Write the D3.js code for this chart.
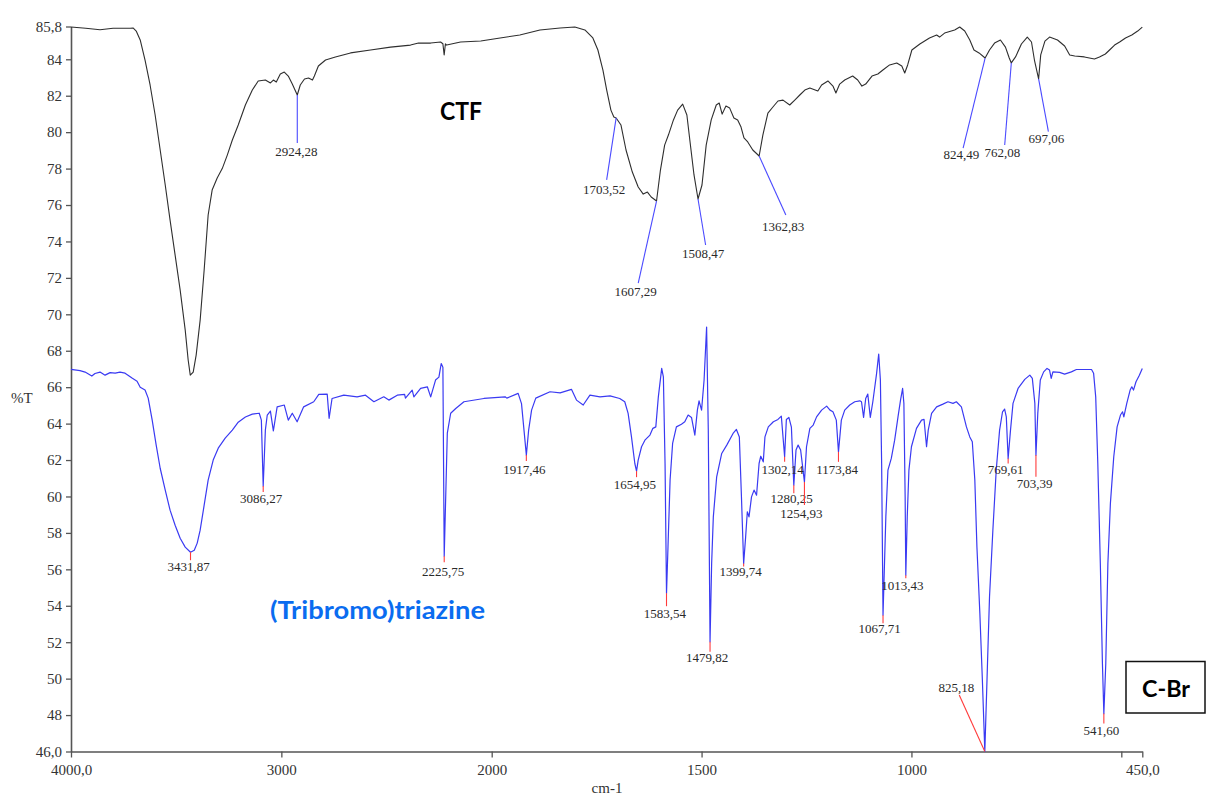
<!DOCTYPE html>
<html>
<head>
<meta charset="utf-8">
<script src="https://cdn.jsdelivr.net/npm/d3@7"></script>
<style>
  html, body { margin: 0; padding: 0; background: #fff; }
  svg { display: block; }
  .serif { font-family: "Liberation Serif", serif; }
</style>
</head>
<body>
<svg id="chart" width="1207" height="796"></svg>
<script>
// ---------------- DATA ----------------
// x-axis tick values (cm-1) and y-axis tick values (%T)
const xTickValues = [4000, 3000, 2000, 1500, 1000, 500, 450];
const xTickLabels = ["4000,0", "3000", "2000", "1500", "1000", "", "450,0"];
const yTickValues = [46, 48, 50, 52, 54, 56, 58, 60, 62, 64, 66, 68, 70, 72, 74, 76, 78, 80, 82, 84, 85.8];
const yTickLabels = ["46,0", "48", "50", "52", "54", "56", "58", "60", "62", "64", "66", "68", "70", "72", "74", "76", "78", "80", "82", "84", "85,8"];

// CTF spectrum: [wavenumber cm-1, %T]
const ctfSpectrum = [
  [4000,85.77],[3930,85.7],[3862,85.62],[3800,85.7],[3719,85.7],[3705,85.72],[3690,85.55],[3671,85.06],
  [3648,83.96],[3624,82.59],[3600,80.94],[3576,79.02],[3552,77.1],[3529,75.17],[3505,73.25],[3481,71.33],
  [3457,69.13],[3443,67.49],[3433,66.66],[3419,66.83],[3405,67.76],[3386,69.68],[3367,72.43],[3348,75.45],
  [3329,76.82],[3305,77.48],[3281,78.0],[3257,78.74],[3233,79.57],[3205,80.39],[3171,81.49],[3138,82.31],
  [3110,82.81],[3076,82.86],[3052,82.7],[3038,82.86],[3024,82.75],[3005,83.19],[2986,83.3],[2967,83.08],
  [2948,82.64],[2924.28,82.04],[2910,82.59],[2890,82.92],[2871,82.97],[2852,82.86],[2843,83.08],[2824,83.63],
  [2790,83.96],[2743,84.13],[2671,84.35],[2576,84.51],[2481,84.67],[2386,84.78],[2348,84.89],[2290,84.89],
  [2243,84.95],[2232,84.85],[2226,84.24],[2220,84.85],[2214,84.78],[2148,84.95],[2052,85.0],[1980,85.17],
  [1933,85.33],[1885,85.61],[1837,85.72],[1802,85.77],[1778,85.61],[1759,85.17],[1747,84.51],[1735,83.41],
  [1726,82.31],[1716,81.21],[1709,80.83],[1703.52,80.78],[1692,80.39],[1680,79.02],[1665,77.81],[1651,76.99],
  [1639,76.6],[1629,76.71],[1620,76.44],[1607.29,76.22],[1598,77.92],[1588,79.29],[1579,79.84],[1567,80.67],
  [1557,81.21],[1545,81.54],[1535,80.94],[1528,79.57],[1518,77.65],[1508.47,76.33],[1499,77.1],[1489,79.29],
  [1477,80.67],[1465,81.49],[1458,81.6],[1451,80.99],[1442,81.43],[1433,81.32],[1423,80.78],[1414,80.67],
  [1406,80.28],[1399,79.68],[1390,79.46],[1378,79.02],[1362.83,78.69],[1354,79.84],[1342,81.05],[1330,81.38],
  [1318,81.71],[1306,81.76],[1290,81.49],[1278,81.76],[1266,82.04],[1254,82.31],[1242,82.42],[1223,82.26],
  [1214,82.59],[1199,82.81],[1187,82.53],[1180,82.15],[1171,82.64],[1159,82.86],[1140,83.08],[1128,82.86],
  [1118,82.53],[1109,82.64],[1094,83.08],[1080,83.19],[1068,83.41],[1052,83.69],[1035,83.8],[1023,83.63],
  [1016,83.25],[1009,83.69],[999,84.51],[980,84.84],[957,85.17],[940,85.33],[933,85.22],[921,85.44],
  [897,85.61],[885,85.77],[873,85.55],[861,85.06],[851,84.51],[839,84.35],[824.49,84.07],[814,84.51],
  [802,84.89],[788,85.06],[776,84.67],[767,84.07],[762.08,83.8],[752,84.13],[738,84.84],[724,85.22],
  [714,84.95],[707,83.96],[697.06,82.92],[692,84.24],[682,85.0],[671,85.22],[652,85.06],[635,84.73],
  [623,84.24],[611,84.18],[588,84.13],[564,84.02],[552,84.13],[538,84.29],[528,84.51],[516,84.78],
  [504,84.95],[490,85.17],[475,85.33],[461,85.55],[450,85.77]
];

// (Tribromo)triazine spectrum: [wavenumber cm-1, %T]
const triazineSpectrum = [
  [4000,66.98],[3957,66.91],[3933,66.83],[3901,66.61],[3886,66.75],[3862,66.83],[3838,66.66],[3814,66.8],
  [3790,66.77],[3767,66.83],[3743,66.77],[3729,66.66],[3710,66.5],[3686,66.33],[3671,66.0],[3648,65.84],
  [3633,65.4],[3614,64.19],[3595,62.82],[3576,61.55],[3552,60.35],[3529,59.25],[3505,58.42],[3481,57.71],
  [3457,57.22],[3431.87,56.94],[3414,57.05],[3400,57.44],[3386,58.15],[3367,59.52],[3348,60.9],[3324,62.0],
  [3300,62.65],[3267,63.2],[3233,63.64],[3205,64.08],[3171,64.36],[3138,64.52],[3105,64.57],[3095,64.19],
  [3086.27,60.57],[3076,63.64],[3067,64.47],[3052,64.69],[3038,63.6],[3020,64.92],[2986,65.02],[2967,64.19],
  [2948,64.57],[2925,64.1],[2894,64.92],[2846,65.2],[2822,65.6],[2782,65.62],[2773,64.29],[2759,65.38],
  [2703,65.56],[2640,65.47],[2600,65.56],[2560,65.2],[2513,65.47],[2489,65.29],[2449,65.56],[2414,65.6],
  [2410,65.4],[2378,65.84],[2370,65.47],[2338,65.93],[2306,66.02],[2290,65.47],[2267,66.39],[2251,66.55],
  [2240,67.3],[2232,67.1],[2225.75,56.72],[2211,63.48],[2195,64.57],[2171,64.83],[2132,65.2],[2037,65.38],
  [1968,65.47],[1964,65.4],[1937,65.66],[1929,65.1],[1917.46,62.27],[1912,63.64],[1905,64.74],[1895,65.4],
  [1861,65.75],[1837,65.69],[1810,65.88],[1798,65.29],[1782,65.02],[1766,65.56],[1742,65.47],[1718,65.52],
  [1695,65.38],[1683,65.2],[1675,64.56],[1667,63.27],[1659,61.81],[1654.95,61.39],[1651,62.0],[1643,62.73],
  [1635,63.09],[1623,63.37],[1616,63.74],[1609,63.82],[1603,65.47],[1595,67.03],[1591,66.57],[1587,61.81],
  [1583.54,54.69],[1580,57.23],[1575,60.9],[1569,62.91],[1560,63.82],[1548,63.97],[1540,64.1],[1532,64.47],
  [1524,64.34],[1516,63.37],[1510,64.74],[1506,65.25],[1500,64.74],[1494,66.39],[1488,69.3],[1484,63.64],
  [1479.82,52.02],[1476,56.32],[1472,58.88],[1464,61.08],[1452,62.36],[1440,62.82],[1425,63.46],[1417,63.68],
  [1410,63.27],[1405,59.98],[1399.74,56.32],[1395,57.78],[1391,59.16],[1387,58.88],[1381,59.98],[1375,60.35],
  [1369,60.07],[1363,61.81],[1359,62.21],[1353,61.9],[1349,63.27],[1341,63.82],[1329,64.1],[1318,64.23],
  [1310,64.41],[1302.14,62.18],[1298,64.23],[1292,64.34],[1286,63.81],[1280.25,60.62],[1275,62.55],[1270,62.82],
  [1264,62.55],[1254.93,60.8],[1250,62.73],[1242,63.74],[1234,63.92],[1226,64.37],[1214,64.74],[1202,64.96],
  [1194,64.74],[1187,64.65],[1179,64.19],[1173.84,62.45],[1167,64.19],[1159,64.74],[1147,65.02],[1135,65.2],
  [1123,65.25],[1119,65.2],[1114,64.34],[1109,65.38],[1104,65.62],[1098,64.34],[1092,65.2],[1083,66.76],
  [1078,67.82],[1074,66.39],[1071,61.81],[1067.71,53.48],[1061,58.88],[1056,61.45],[1048,62.09],[1040,63.09],
  [1032,64.37],[1026,65.29],[1021,65.93],[1018,65.11],[1015,59.98],[1013.43,55.68],[1010,58.88],[1006,61.45],
  [1000,62.73],[988,63.74],[976,64.19],[970,64.23],[964,62.73],[960,63.64],[952,64.56],[940,64.92],
  [925,65.07],[913,65.2],[901,65.11],[893,65.2],[881,64.92],[869,63.82],[861,63.27],[855,63.0],
  [849,60.9],[844,57.23],[837,53.58],[831,49.91],[825.18,46.0],[820,49.91],[814,54.49],[806,58.15],
  [798,61.45],[790,63.64],[783,64.65],[778,64.8],[774,64.37],[769.61,62.09],[764,63.64],[758,65.11],
  [746,65.93],[730,66.43],[718,66.66],[712,66.48],[706,65.11],[703.39,62.27],[699,64.56],[693,66.39],
  [685,66.84],[677,67.03],[671,66.94],[667,66.48],[663,66.84],[647,66.81],[635,66.72],[619,66.84],
  [607,66.97],[587,66.97],[571,66.97],[566,66.76],[561,65.47],[556,61.81],[550,56.32],[545,50.83],
  [541.60,48.08],[537,50.83],[532,56.32],[526,59.62],[518,62.18],[510,63.82],[502,64.47],[497,64.65],
  [494,64.37],[487,65.11],[479,65.84],[475,66.02],[471,65.84],[465,66.3],[457,66.66],[450,67.03]
];

// Labelled peaks: [wavenumber, %T]
const ctfPeaks = [
  [2924.28,82.04],[1703.52,80.78],[1607.29,76.22],[1508.47,76.33],[1362.83,78.69],
  [824.49,84.07],[762.08,83.8],[697.06,82.92]
];
const triazinePeaks = [
  [3431.87,56.94],[3086.27,60.57],[2225.75,56.72],[1917.46,62.27],[1654.95,61.39],[1583.54,54.69],
  [1479.82,52.02],[1399.74,56.32],[1302.14,62.18],[1280.25,60.62],[1254.93,60.8],[1173.84,62.45],
  [1067.71,53.48],[1013.43,55.68],[825.18,46.0],[769.61,62.09],[703.39,62.27],[541.60,48.08]
];

// ---------------- LAYOUT (pixel offsets for peak annotations) ----------------
// [leaderEndDx, leaderEndDy, textDx, textDy] relative to peak point
const ctfLabelLayout = [
  [0,48,-1,61],[-9.5,62,-12,76],[-18.3,82,-21,95],[7.6,46,5.2,59],[26.7,59,24,75],
  [-22,90,-23.7,101],[-6.6,82,-9,93.7],[9.8,52.7,7.8,64.3]
];
const triazineLabelLayout = [
  [0,8,-2,19],[0,6,-2,17],[0,6,-1,20],[0,6,-2,19],[0,6,-1.6,18],[0,13,-1.6,25],
  [0,10,-3,20],[0,3,-3,12],[0,5,-2,17],[0,8,-2.3,18],[0,23,-3,36],[0,10,-1.4,22],
  [0,8,-3.3,18],[0,3,-3.4,15],[-25.6,-56.5,-28.4,-60],[0,5,-2.5,16],[0,21.7,-1.3,33],[0,10,-2.5,21]
];

// ---------------- DRAW ----------------
const svg = d3.select("#chart");
svg.append("rect").attr("width", 1207).attr("height", 796).attr("fill", "#fff");

const x = d3.scaleLinear().domain([4000, 2000, 450]).range([71, 491.7, 1142.3]);
const y = d3.scaleLinear().domain([46, 85.8]).range([751.5, 26.5]);

const axisColor = "#555";

// Y axis
const yAxis = svg.append("g")
  .attr("transform", "translate(71,0)")
  .call(d3.axisLeft(y).tickValues(yTickValues).tickSize(5).tickSizeOuter(0).tickPadding(4)
    .tickFormat((d, i) => yTickLabels[i]));
// X axis
const xAxis = svg.append("g")
  .attr("transform", "translate(0,751.5)")
  .call(d3.axisBottom(x).tickValues(xTickValues).tickSize(6).tickSizeOuter(0).tickPadding(7)
    .tickFormat((d, i) => xTickLabels[i]));

[yAxis, xAxis].forEach(g => {
  g.attr("font-family", "Liberation Serif").attr("font-size", 15);
  g.select(".domain").attr("stroke", axisColor).attr("stroke-width", 1.6);
  g.selectAll(".tick line").attr("stroke", axisColor).attr("stroke-width", 1.3);
  g.selectAll(".tick text").attr("class", "serif").attr("fill", "#333");
});

// Axis titles
svg.append("text").attr("class", "serif").attr("x", 11).attr("y", 403).text("%T")
  .attr("font-size", 15).attr("fill", "#333");
svg.append("text").attr("class", "serif").attr("x", 607).attr("y", 793).attr("text-anchor", "middle").text("cm-1")
  .attr("font-size", 15).attr("fill", "#333");

// Lines
const line = d3.line().x(d => x(d[0])).y(d => y(d[1]));
svg.append("path").datum(ctfSpectrum).attr("d", line)
  .attr("fill", "none").attr("stroke", "#2e2e2e").attr("stroke-width", 1.1).attr("stroke-linejoin", "round");
svg.append("path").datum(triazineSpectrum).attr("d", line)
  .attr("fill", "none").attr("stroke", "#3a3af2").attr("stroke-width", 1.2).attr("stroke-linejoin", "round");

const fmtPeak = w => d3.format(".2f")(w).replace(".", ",");

function drawPeaks(peaks, layout, leaderColor) {
  const g = svg.append("g");
  peaks.forEach((p, i) => {
    const px = x(p[0]), py = y(p[1]);
    const L = layout[i];
    g.append("line").attr("x1", px).attr("y1", py).attr("x2", px + L[0]).attr("y2", py + L[1])
      .attr("stroke", leaderColor).attr("stroke-width", 1.1);
    g.append("text").attr("class", "serif").attr("x", px + L[2]).attr("y", py + L[3]).attr("text-anchor", "middle")
      .text(fmtPeak(p[0])).attr("font-size", 13).attr("fill", "#2a2a2a");
  });
}
drawPeaks(ctfPeaks, ctfLabelLayout, "#4a4aff");
drawPeaks(triazinePeaks, triazineLabelLayout, "#ff3b3b");

// Series names
const sans = "Lato, 'Open Sans', 'Noto Sans', sans-serif";
svg.append("text").attr("x", 440).attr("y", 120).text("CTF")
  .style("font-family", sans).style("font-weight", "bold").style("font-size", "25px").attr("fill", "#000")
  .attr("textLength", 42).attr("lengthAdjust", "spacingAndGlyphs");
svg.append("text").attr("x", 270).attr("y", 619).text("(Tribromo)triazine")
  .style("font-family", sans).style("font-weight", "bold").style("font-size", "25px").attr("fill", "#0a6cf0")
  .attr("textLength", 215).attr("lengthAdjust", "spacingAndGlyphs");

// C-Br box
svg.append("rect").attr("x", 1126).attr("y", 661.5).attr("width", 79).attr("height", 51.5)
  .attr("fill", "#fff").attr("stroke", "#111").attr("stroke-width", 1.5);
svg.append("text").attr("x", 1142).attr("y", 697).text("C-Br")
  .style("font-family", sans).style("font-weight", "bold").style("font-size", "22px").attr("fill", "#000")
  .attr("textLength", 48).attr("lengthAdjust", "spacingAndGlyphs");
</script>
</body>
</html>
